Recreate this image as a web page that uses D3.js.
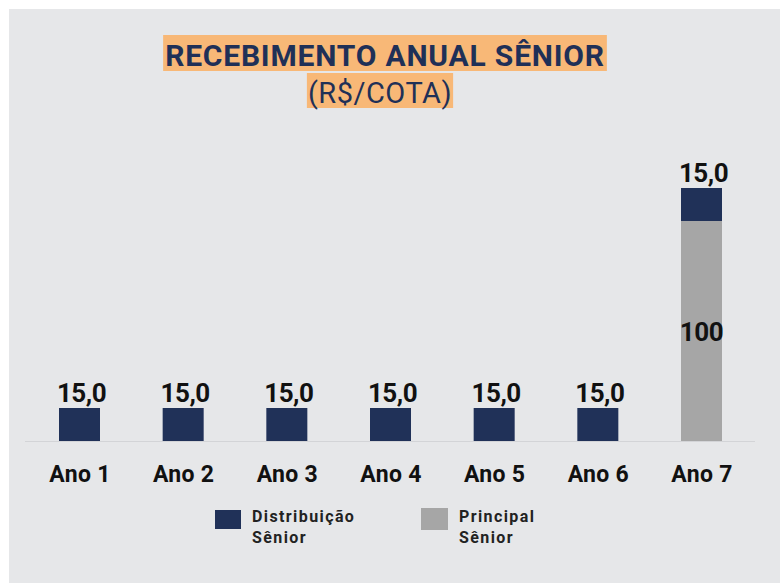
<!DOCTYPE html>
<html>
<head>
<meta charset="utf-8">
<script src="https://cdn.jsdelivr.net/npm/d3@7"></script>
<style>
  html, body { margin: 0; padding: 0; background: #ffffff; }
  svg { display: block; }
</style>
</head>
<body>
<svg id="chart" width="781" height="583"></svg>
<script>
const categories = ["Ano 1", "Ano 2", "Ano 3", "Ano 4", "Ano 5", "Ano 6", "Ano 7"];
const distribuicao = [15, 15, 15, 15, 15, 15, 15];
const principal = [0, 0, 0, 0, 0, 0, 100];
const seriesNames = ["Distribuição\nSênior", "Principal\nSênior"];
const titleText = "RECEBIMENTO ANUAL SÊNIOR";
const subtitleText = "(R$/COTA)";

const colors = { distribuicao: "#203158", principal: "#a6a6a6" };
const W = 781, H = 583;
const svg = d3.select("#chart");

// panel background
svg.append("rect").attr("x", 9).attr("y", 9).attr("width", W - 10).attr("height", H - 9).attr("fill", "#e6e7e9");

const rows = categories.map((c, i) => ({ cat: c, distribuicao: distribuicao[i], principal: principal[i] }));
const stack = d3.stack().keys(["principal", "distribuicao"]);
const stacked = stack(rows);

const x = d3.scalePoint().domain(categories).range([79.5, 701.5]);
const y = d3.scaleLinear().domain([0, 115]).range([441, 188]);
const barW = 41;

const fmt = d3.formatLocale({ decimal: ",", thousands: ".", grouping: [3], currency: ["R$", ""] });
const f1 = fmt.format(".1f");
const f0 = fmt.format(".0f");

// baseline
svg.append("line").attr("x1", 25).attr("x2", 755).attr("y1", y(0) + 0.5).attr("y2", y(0) + 0.5)
  .attr("stroke", "#d3d4d7").attr("stroke-width", 1);

// bars
const g = svg.append("g");
stacked.forEach(layer => {
  g.selectAll(null).data(layer.filter(d => d[1] - d[0] > 0)).enter().append("rect")
    .attr("x", d => x(d.data.cat) - barW / 2)
    .attr("width", barW)
    .attr("y", d => y(d[1]))
    .attr("height", d => y(d[0]) - y(d[1]))
    .attr("fill", colors[layer.key]);
});

const labelFont = "Roboto, 'DejaVu Sans', sans-serif";

// distribution labels above bars
g.selectAll(null).data(rows).enter().append("text")
  .attr("x", d => x(d.cat) + 2)
  .attr("y", d => y(d.principal + d.distribuicao) - 6)
  .attr("text-anchor", "middle")
  .attr("font-family", labelFont).attr("font-weight", 700).attr("font-size", 26)
  .attr("letter-spacing", -0.5)
  .attr("fill", "#111111")
  .text(d => f1(d.distribuicao));

// principal labels inside
g.selectAll(null).data(rows.filter(d => d.principal > 0)).enter().append("text")
  .attr("x", d => x(d.cat))
  .attr("y", d => y(d.principal / 2) + 10)
  .attr("text-anchor", "middle")
  .attr("font-family", labelFont).attr("font-weight", 700).attr("font-size", 26)
  .attr("letter-spacing", -0.5)
  .attr("fill", "#111111")
  .text(d => f0(d.principal));

// x axis
const axis = d3.axisBottom(x).tickSize(0).tickPadding(0);
const ax = svg.append("g").attr("transform", `translate(0, 482)`).call(axis);
ax.select(".domain").remove();
ax.selectAll("text")
  .attr("dy", 0)
  .attr("font-family", labelFont).attr("font-weight", 700).attr("font-size", 23)
  .attr("letter-spacing", 0.3)
  .attr("fill", "#111111");

// title with highlight
function highlighted(text, cx, baseline, size, weight, padX, boxTop, boxH, ls) {
  const t = svg.append("text").attr("x", cx).attr("y", baseline)
    .attr("text-anchor", "middle")
    .attr("font-family", labelFont).attr("font-weight", weight).attr("font-size", size)
    .attr("letter-spacing", ls)
    .attr("fill", "#1f3057").text(text);
  const bb = t.node().getBBox();
  svg.insert("rect", () => t.node())
    .attr("x", bb.x - padX).attr("y", boxTop)
    .attr("width", bb.width + 2 * padX).attr("height", boxH)
    .attr("fill", "#f8b877");
}
highlighted(titleText, 385, 66, 30, 700, 2, 35, 36, 0.8);
highlighted(subtitleText, 380, 103, 29, 400, 1, 73, 35, 0.5);

// legend
const legend = [
  { name: seriesNames[0], color: colors.distribuicao, x: 215, w: 26, h: 19, y: 510 },
  { name: seriesNames[1], color: colors.principal, x: 421, w: 27, h: 22, y: 508 }
];
legend.forEach(l => {
  svg.append("rect").attr("x", l.x).attr("y", l.y).attr("width", l.w).attr("height", l.h).attr("fill", l.color);
  const t = svg.append("text").attr("x", l.x + l.w + 11).attr("y", 522)
    .attr("font-family", labelFont).attr("font-weight", 700).attr("font-size", 16)
    .attr("letter-spacing", 1.4)
    .attr("fill", "#222222");
  l.name.split("\n").forEach((line, i) => {
    t.append("tspan").attr("x", l.x + l.w + 11).attr("dy", i === 0 ? 0 : 21).text(line);
  });
});
</script>
</body>
</html>
